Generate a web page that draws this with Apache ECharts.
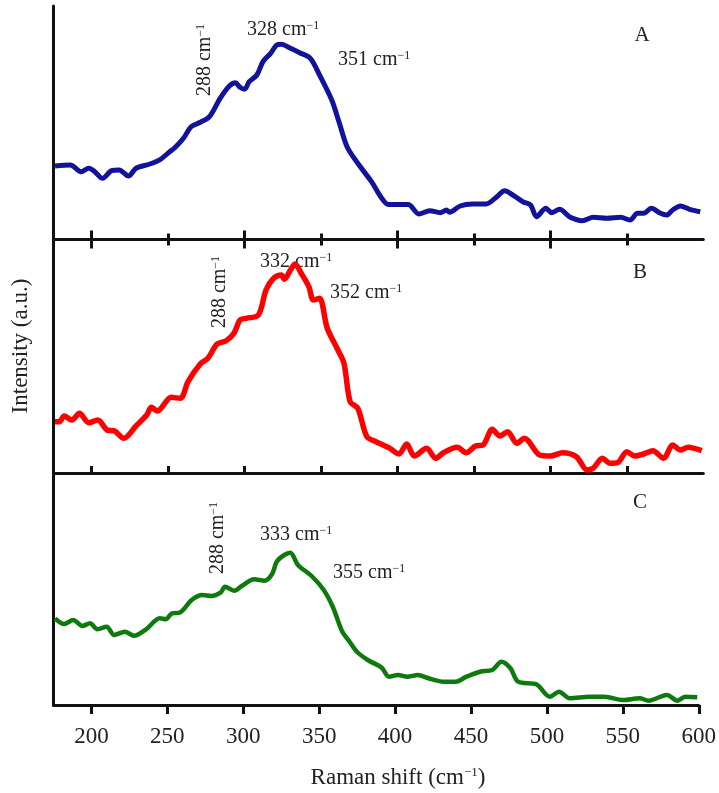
<!DOCTYPE html>
<html>
<head>
<meta charset="utf-8">
<script src="https://cdn.jsdelivr.net/npm/echarts@6/dist/echarts.min.js"></script>
<style>
html, body { margin: 0; padding: 0; background: #fff; }
#main { width: 719px; height: 793px; }
</style>
</head>
<body>
<div id="main"></div>
<script>
// ---- data (Raman shift, cm-1 / intensity, a.u.) ----
var shiftA = [176, 186, 193, 198, 202, 207, 213, 218, 224, 229, 238, 245, 251, 254, 260, 265, 271, 277, 284, 290, 294, 297, 300, 303, 308, 312, 317, 321, 324, 330, 336, 343, 349, 357, 362, 367, 374, 383, 389, 394, 407, 414, 421, 428, 432, 434, 441, 449, 458, 465, 470, 477, 482, 487, 491, 497, 501, 506, 513, 521, 528, 537, 546, 552, 557, 561, 566, 572, 576, 580, 585, 591, 598];
var intensityA = [73.5, 74.5, 67.8, 71.2, 67.8, 61.2, 68.8, 69.5, 63.5, 71.2, 75.5, 80.2, 87.8, 91.2, 101.2, 112.8, 117.2, 122.8, 141.2, 153.5, 156.8, 152.2, 150.2, 157.8, 164.5, 177.8, 186.2, 194.5, 195.2, 191.2, 186.8, 181.2, 164.5, 139.5, 116.2, 92.8, 76.2, 57.8, 42.8, 35, 35, 25.5, 28.8, 26.8, 29.5, 27.2, 33.5, 35.5, 35.5, 42.8, 48.8, 42.8, 37.8, 34.5, 22.8, 31.2, 26.8, 30.2, 22.2, 18.8, 22.2, 21.2, 22.2, 19.5, 26.2, 26.2, 31.2, 26.2, 24.5, 29.5, 33.5, 30.2, 27.8];

var shiftB = [176, 179, 182, 187, 192, 198, 204, 210, 215, 221, 229, 236, 239, 243, 252, 258, 263, 271, 276, 282, 288, 293, 297, 301, 309, 314, 319, 324, 326, 330, 333, 337, 342, 345, 349, 354, 361, 365, 369, 374, 380, 386, 395, 401, 406, 411, 419, 425, 430, 439, 445, 451, 456, 462, 467, 472, 478, 483, 493, 500, 508, 517, 524, 528, 534, 539, 544, 550, 555, 561, 567, 574, 580, 585, 590, 599];
var intensityB = [51.3, 51.3, 57, 53, 59.7, 50.3, 53, 43, 42, 34.7, 47, 58, 65.7, 62, 75.7, 74.7, 91.3, 109, 114.7, 129, 132.3, 139.7, 153, 154.7, 158, 183, 194.7, 198, 193.7, 203, 209, 199.7, 186.3, 173, 174.7, 145, 123, 109.7, 71.3, 64.7, 36.3, 31.3, 24.7, 19, 29, 17, 24.7, 14.7, 20.3, 25.7, 20.3, 27, 28, 43.7, 37, 41.3, 29.7, 34.7, 18, 17, 20.3, 16.3, 3, 4.7, 14.7, 9.7, 10.3, 21.3, 17, 19, 22.3, 14.7, 28, 23, 25.7, 22.3];

var shiftC = [176, 182, 188, 194, 199, 204, 210, 215, 222, 228, 236, 245, 249, 253, 258, 266, 273, 279, 285, 288, 294, 299, 307, 314, 319, 322, 327, 331, 336, 345, 353, 359, 365, 370, 375, 382, 391, 396, 402, 408, 415, 422, 432, 440, 447, 456, 464, 470, 476, 481, 493, 502, 508, 515, 528, 538, 550, 561, 567, 579, 586, 591, 599];
var intensityC = [86.7, 81, 85, 79, 81.7, 75.7, 78.3, 70, 73.3, 69.3, 75.7, 86.7, 85.7, 91.7, 92.3, 105, 110, 109, 112.3, 118.3, 114.3, 119, 125.7, 124.3, 131, 143.3, 150, 152.3, 140, 129, 115, 98, 74, 63.3, 53, 45, 37.5, 28.3, 30, 28.3, 30, 26.7, 23.3, 23.3, 28.3, 33.3, 35, 43.3, 36.7, 23.3, 20.7, 8.3, 13.3, 6.7, 8.3, 8.3, 5, 6.7, 4.3, 10, 4.3, 8.3, 7.7];

var majorTicks = [200, 300, 400, 500];
var minorTicks = [250, 350, 450, 550];
var tickLabels = [200, 250, 300, 350, 400, 450, 500, 550, 600];

function pairs(xs, ys) {
	var out = [];
	for (var i = 0; i < xs.length; i++) out.push([xs[i], ys[i]]);
	return out;
}

var font = 'Liberation Serif';
var ink = '#111';

// x axis helper: everything off unless asked
function xAx(grid, extra) {
	var base = {
		type: 'value', gridIndex: grid, position: 'bottom', min: 175, max: 600,
		axisLine: { show: false, onZero: false, lineStyle: { color: ink, width: 3 } },
		axisTick: { show: false },
		axisLabel: { show: false },
		splitLine: { show: false }
	};
	for (var k in extra) base[k] = extra[k];
	return base;
}

function yAx(grid, max) {
	return {
		type: 'value', gridIndex: grid, min: 0, max: max,
		axisLine: { show: true, lineStyle: { color: ink, width: 3 } },
		axisTick: { show: false }, axisLabel: { show: false }, splitLine: { show: false }
	};
}

// text with a "-1" superscript
function cm(x, y, num, rot) {
	var el = {
		type: 'text', x: x, y: y, rotation: rot || 0,
		style: {
			text: '{n|' + num + ' cm}{s|\u22121}',
			align: rot ? 'center' : 'left', verticalAlign: 'middle',
			rich: {
				n: { fontFamily: font, fontSize: 20, fill: '#222' },
				s: { fontFamily: font, fontSize: 12, fill: '#222', verticalAlign: 'top' }
			}
		}
	};
	return el;
}

function letter(x, y, t) {
	return { type: 'text', x: x, y: y, style: { text: t, fontFamily: font, fontSize: 21, fill: '#222', align: 'center', verticalAlign: 'middle' } };
}

var myChart = echarts.init(document.getElementById('main'));

var option = {
	animation: false,
	backgroundColor: '#fff',
	grid: [
		{ left: 53.5, right: 15.7, top: 6, height: 233.5 },
		{ left: 53.5, right: 15.7, top: 240, height: 233 },
		{ left: 53.5, right: 15.7, top: 473, height: 232 }
	],
	xAxis: [
		// A: line + crossing ticks
		xAx(0, { axisLine: { show: true, onZero: false, lineStyle: { color: ink, width: 3 } } }),
		xAx(0, { offset: -9, axisTick: { show: true, length: 18, customValues: majorTicks, lineStyle: { color: ink, width: 3 } } }),
		xAx(0, { offset: -6, axisTick: { show: true, length: 12, customValues: minorTicks, lineStyle: { color: ink, width: 3 } } }),
		// B: ticks pointing up
		xAx(1, {
			axisLine: { show: true, onZero: false, lineStyle: { color: ink, width: 3 } },
			axisTick: { show: true, inside: true, length: 7, customValues: majorTicks.concat(minorTicks), lineStyle: { color: ink, width: 3 } }
		}),
		// C: ticks down + labels
		xAx(2, {
			axisLine: { show: true, onZero: false, lineStyle: { color: ink, width: 3 } },
			axisTick: { show: true, length: 9, customValues: tickLabels, lineStyle: { color: ink, width: 3 } },
			axisLabel: { show: true, customValues: tickLabels, margin: 20, fontFamily: font, fontSize: 23, color: '#222' }
		})
	],
	yAxis: [yAx(0, 233.5), yAx(1, 233), yAx(2, 232)],
	series: [
		{
			name: 'A', type: 'line', xAxisIndex: 0, yAxisIndex: 0, smooth: 0.3, showSymbol: false,
			lineStyle: { color: '#12129a', width: 5 }, data: pairs(shiftA, intensityA)
		},
		{
			name: 'B', type: 'line', xAxisIndex: 3, yAxisIndex: 1, smooth: 0.3, showSymbol: false,
			lineStyle: { color: '#ff0000', width: 5.5 }, data: pairs(shiftB, intensityB)
		},
		{
			name: 'C', type: 'line', xAxisIndex: 4, yAxisIndex: 2, smooth: 0.3, showSymbol: false,
			lineStyle: { color: '#0e7a0e', width: 4.5 }, data: pairs(shiftC, intensityC)
		}
	],
	graphic: [
		cm(247, 30, 328), cm(338, 60, 351), cm(205, 60, 288, Math.PI / 2), letter(642, 35, 'A'),
		cm(260, 262, 332), cm(330, 293, 352), cm(220, 292, 288, Math.PI / 2), letter(640, 272, 'B'),
		cm(260, 535, 333), cm(333, 573, 355), cm(218, 538, 288, Math.PI / 2), letter(640, 502, 'C'),
		{
			type: 'text', x: 21, y: 346, rotation: Math.PI / 2,
			style: { text: 'Intensity (a.u.)', fontFamily: font, fontSize: 23, fill: '#222', align: 'center', verticalAlign: 'middle' }
		},
		{
			type: 'text', x: 398, y: 778,
			style: {
				text: '{n|Raman shift (cm}{s|\u22121}{n|)}', align: 'center', verticalAlign: 'middle',
				rich: {
					n: { fontFamily: font, fontSize: 23, fill: '#222' },
					s: { fontFamily: font, fontSize: 13, fill: '#222', verticalAlign: 'top' }
				}
			}
		}
	]
};

myChart.setOption(option);
</script>
</body>
</html>
